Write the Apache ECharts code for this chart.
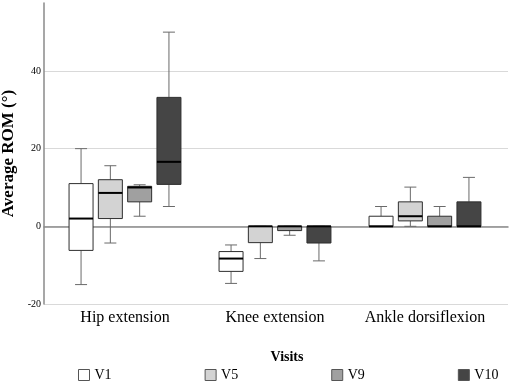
<!DOCTYPE html>
<html>
<head>
<meta charset="utf-8">
<script src="https://cdn.jsdelivr.net/npm/echarts@6/dist/echarts.min.js"></script>
<style>
  html, body { margin: 0; padding: 0; background: #fff; }
  #chart { width: 510px; height: 384px; }
</style>
</head>
<body>
<div id="chart"></div>
<script>
// categories on x axis
const categories = ["Hip extension", "Knee extension", "Ankle dorsiflexion"];
const visits = ["V1", "V5", "V9", "V10"];

// [low whisker, Q1, median, Q3, high whisker] per category
const v1Data = [[-15, -6.2, 2, 11, 20], [-14.7, -11.6, -8.3, -6.5, -4.8], [0, 0, 0, 2.6, 5.1]];
const v5Data = [[-4.3, 2, 8.6, 12, 15.6], [-8.3, -4.2, 0, 0, 0], [0, 1.4, 2.6, 6.3, 10.1]];
const v9Data = [[2.6, 6.3, 10, 10.3, 10.7], [-2.3, -1.1, 0, 0, 0], [0, 0, 0, 2.6, 5.1]];
const v10Data = [[5.1, 10.8, 16.6, 33.2, 50], [-8.9, -4.3, 0, 0, 0], [0, 0, 0, 6.3, 12.6]];

const fills = ["#ffffff", "#d3d3d3", "#a0a0a0", "#454545"];
const allData = [v1Data, v5Data, v9Data, v10Data];

const serif = "Liberation Serif";
const chart = echarts.init(document.getElementById("chart"));

// draws one box with whiskers, caps and a thick median
function renderBox(params, api) {
  const cat = api.value(0);
  const bw = api.size([1, 0])[0];
  const s = params.seriesIndex;
  const cx = api.coord([cat, 0])[0] + (s - 1.5) * bw * 0.1953;
  const half = bw * 0.08;
  const cap = half / 2;
  const y = (i) => api.coord([cat, api.value(i)])[1];
  const yLow = y(1), yQ1 = y(2), yMed = y(3), yQ3 = y(4), yHigh = y(5);
  const whisk = { stroke: "#6a6a6a", lineWidth: 1 };
  return {
    type: "group",
    children: [
      { type: "line", shape: { x1: cx, y1: yQ3, x2: cx, y2: yHigh }, style: whisk },
      { type: "line", shape: { x1: cx - cap, y1: yHigh, x2: cx + cap, y2: yHigh }, style: whisk },
      { type: "line", shape: { x1: cx, y1: yQ1, x2: cx, y2: yLow }, style: whisk },
      { type: "line", shape: { x1: cx - cap, y1: yLow, x2: cx + cap, y2: yLow }, style: whisk },
      {
        type: "rect",
        shape: { x: cx - half, y: yQ3, width: half * 2, height: yQ1 - yQ3 },
        style: { fill: fills[s], stroke: "#2e2e2e", lineWidth: 1 },
      },
      {
        type: "line",
        shape: { x1: cx - half, y1: yMed, x2: cx + half, y2: yMed },
        style: { stroke: "#000", lineWidth: 2 },
      },
    ],
  };
}

const boxSeries = visits.map((name, i) => ({
  name: name,
  type: "custom",
  xAxisIndex: 0,
  yAxisIndex: 0,
  data: allData[i].map((d, c) => [c].concat(d)),
  encode: { x: 0, y: [1, 2, 3, 4, 5] },
  itemStyle: { color: fills[i], borderColor: "#555", borderWidth: 1 },
  silent: true,
  renderItem: renderBox,
}));

const option = {
  animation: false,
  title: {
    text: "Visits",
    left: 282,
    top: 345,
    textAlign: "center",
    textStyle: { fontFamily: serif, fontWeight: "bold", fontSize: 14, color: "#000" },
  },
  legend: {
    data: visits,
    left: 78,
    top: 368,
    width: 432,
    padding: 0,
    icon: "rect",
    itemWidth: 11,
    itemHeight: 11,
    itemGap: 93,
    selectedMode: false,
    itemStyle: { borderWidth: 1, borderColor: "#555" },
    textStyle: { fontFamily: serif, fontSize: 14, color: "#000" },
  },
  grid: [
    { left: 50, right: 10, top: 3, bottom: 80, outerBoundsMode: "none" },
    { left: 44, right: 2, top: 3, bottom: 80, outerBoundsMode: "none" },
  ],
  xAxis: [
    {
      type: "category",
      gridIndex: 0,
      data: categories,
      axisLine: { show: false },
      axisTick: { show: false },
      axisLabel: {
        interval: 0,
        fontFamily: serif,
        fontSize: 16,
        color: "#000",
        margin: 6,
      },
    },
    {
      type: "category",
      gridIndex: 1,
      data: [],
      axisLine: { lineStyle: { color: "#8a8a8a", width: 1.5 } },
      axisTick: { show: false },
      axisLabel: { show: false },
    },
  ],
  yAxis: [
    {
      type: "value",
      gridIndex: 0,
      min: -20,
      max: 57.5,
      interval: 20,
      axisLine: { show: false },
      axisTick: { show: false },
      axisLabel: { show: false },
      splitLine: { show: false },
    },
    {
      type: "value",
      gridIndex: 1,
      min: -20,
      max: 57.5,
      interval: 20,
      name: "Average ROM (°)",
      nameLocation: "middle",
      nameGap: 25,
      nameTextStyle: { fontFamily: serif, fontWeight: "bold", fontSize: 17, color: "#000" },
      axisLine: { show: true, lineStyle: { color: "#8a8a8a", width: 1.5 } },
      axisTick: { show: false },
      axisLabel: {
        fontFamily: serif,
        fontSize: 10,
        color: "#000",
        margin: 3,
        showMaxLabel: false,
      },
      splitLine: { show: true, showMaxLine: false, lineStyle: { color: "#d9d9d9", width: 1 } },
    },
  ],
  series: boxSeries,
};

chart.setOption(option);
</script>
</body>
</html>
